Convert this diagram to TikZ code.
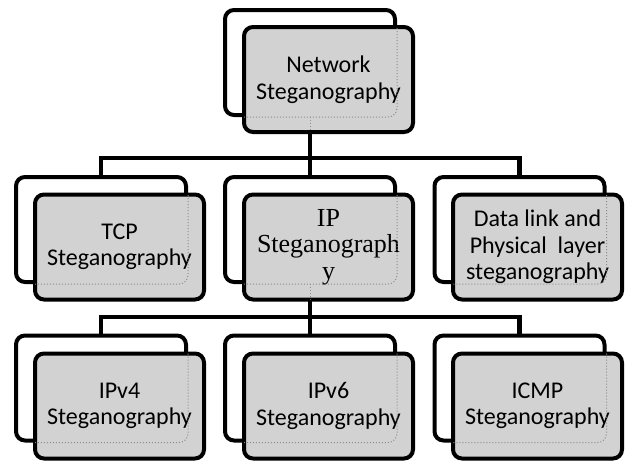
\documentclass[tikz,border=0pt]{standalone}
\usepackage{fontspec}
\setmainfont{Carlito}
\newfontfamily\serifip{Liberation Serif}
\usetikzlibrary{backgrounds}
\definecolor{boxgray}{RGB}{210,210,210}
\tikzset{
  backbox/.style={draw=black, line width=4pt, fill=white, rounded corners=9pt,
    minimum width=170pt, minimum height=105pt, inner sep=0pt},
  frontbox/.style={draw=black, line width=4pt, fill=boxgray, rounded corners=9pt,
    minimum width=169pt, minimum height=105pt, inner sep=0pt, align=center,
    font=\fontsize{24}{26.5}\selectfont},
  conn/.style={draw=black, line width=4.5pt, line join=miter},
  hidden/.style={draw=black!45, line width=1pt, dotted},
}
\begin{document}
\begin{tikzpicture}[x=1pt,y=-1pt]
\useasboundingbox (0,0) rectangle (625,463);

% top level
\node[backbox] (topb) at (310,62.5) {};
\node[frontbox] (topf) at (328.5,79.5) {Network\\Steganography};

% second level
\node[backbox] (tcpb) at (101,229.5) {};
\node[frontbox] (tcpf) at (119.5,247) {TCP\\Steganography};
\node[backbox] (ipb) at (310,229.5) {};
\node[frontbox, font=\serifip\fontsize{26}{26.5}\selectfont] (ipf) at (328.5,247) {IP\\Steganograph\\y};
\node[backbox] (dlb) at (519.5,229.5) {};
\node[frontbox] (dlf) at (537.5,247) {Data link and\\Physical~ layer\\steganography};

% third level
\node[backbox] (v4b) at (101,388) {};
\node[frontbox] (v4f) at (119.5,406) {IPv4\\Steganography};
\node[backbox] (v6b) at (310,388) {};
\node[frontbox] (v6f) at (328.5,406) {IPv6\\Steganography};
\node[backbox] (icb) at (519.5,388) {};
\node[frontbox] (icf) at (537.5,406) {ICMP\\Steganography};

% connectors, drawn beneath the boxes
\coordinate (busA) at (310,158);
\coordinate (busB) at (310,317);
\begin{scope}[on background layer]
  \draw[conn] (topb.south) -- (ipb.north);
  \draw[conn] (tcpb.north) |- (busA) -| (dlb.north);
  \draw[conn] (ipb.south) -- (v6b.north);
  \draw[conn] (v4b.north) |- (busB) -| (icb.north);
\end{scope}

% outlines of the back boxes seen through the front boxes
\foreach \b/\f in {topb/topf, tcpb/tcpf, ipb/ipf, dlb/dlf, v4b/v4f, v6b/v6f, icb/icf}{
  \begin{scope}
    \clip[rounded corners=7pt] ([xshift=2pt,yshift=-2pt]\f.north west) rectangle ([xshift=-2pt,yshift=2pt]\f.south east);
    \draw[hidden, rounded corners=9pt] (\b.north west) rectangle (\b.south east);
  \end{scope}
}
\begin{scope}
  \clip[rounded corners=7pt] ([xshift=2pt,yshift=-2pt]topf.north west) rectangle ([xshift=-2pt,yshift=2pt]topf.south east);
  \draw[hidden] (topb.south) -- (topb.south |- topf.south);
\end{scope}
\begin{scope}
  \clip[rounded corners=7pt] ([xshift=2pt,yshift=-2pt]ipf.north west) rectangle ([xshift=-2pt,yshift=2pt]ipf.south east);
  \draw[hidden] (ipb.south) -- (ipb.south |- ipf.south);
\end{scope}
\end{tikzpicture}
\end{document}
